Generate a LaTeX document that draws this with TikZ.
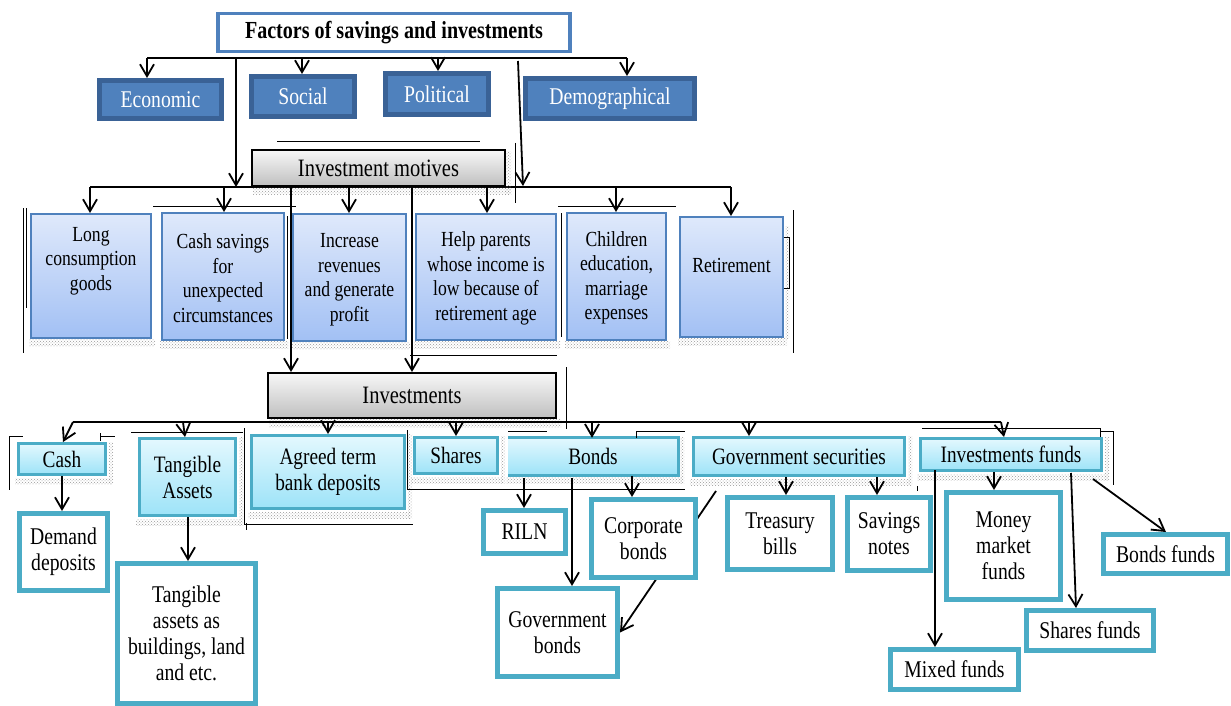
\documentclass[tikz,border=0pt]{standalone}
\usepackage{fontspec}
\setmainfont{Liberation Serif}[FakeStretch=0.82]
\usetikzlibrary{arrows.meta,patterns,backgrounds}
\definecolor{topblue}{HTML}{4F81BD}
\definecolor{darkblue}{HTML}{3A6296}
\definecolor{mottop}{HTML}{DFE9FB}
\definecolor{motbot}{HTML}{A2C0F4}
\definecolor{cattop}{HTML}{E3F8FE}
\definecolor{catbot}{HTML}{9DE3F8}
\definecolor{leafc}{HTML}{4BACC6}
\tikzset{
  topbox/.style={draw=topblue, line width=3.5pt, fill=white, inner sep=0pt,
    font=\bfseries\fontsize{24.5}{28}\selectfont},
  factbox/.style={draw=darkblue, line width=5pt, fill=topblue, text=white, inner sep=0pt,
    font=\fontsize{24}{28}\selectfont},
  graybox/.style={draw=black, line width=2pt, top color=gray!6, bottom color=gray!50, inner sep=0pt,
    font=\fontsize{25}{28}\selectfont},
  motbox/.style={draw=topblue, line width=2pt, top color=mottop, bottom color=motbot, inner sep=0pt},
  mottxt/.style={align=center, inner sep=0pt, font=\fontsize{21.5}{24.5}\selectfont},
  catbox/.style={draw=leafc, line width=3pt, top color=cattop, bottom color=catbot, inner sep=0pt,
    align=center, font=\fontsize{23.5}{26}\selectfont},
  catfill/.style={top color=cattop, bottom color=catbot, inner sep=0pt,
    align=center, font=\fontsize{23.5}{26}\selectfont},
  catline/.style={draw=leafc, line width=3pt},
  leafbox/.style={draw=leafc, line width=5pt, fill=white, inner sep=0pt,
    align=center, font=\fontsize{24}{26}\selectfont},
  arr/.style={line width=1.8pt, -{Straight Barb[length=12pt,width=14pt]}},
  busline/.style={line width=2.6pt},
  stray/.style={line width=0.8pt},
  shadowdots/.style={pattern=crosshatch dots, pattern color=gray!80},
}
\begin{document}
\begin{tikzpicture}[x=1pt,y=-1pt]
\useasboundingbox (0,0) rectangle (1231,706);

% ---------- level 0 and factors ----------
\node[topbox, minimum width=352, minimum height=38] (top) at (394,32.5) {Factors of savings and investments};
\node[factbox, minimum width=122, minimum height=38] (econ) at (160.5,99.5) {Economic};
\node[factbox, minimum width=103, minimum height=40] (social) at (303,96.5) {Social};
\node[factbox, minimum width=103, minimum height=41] (polit) at (437,94) {Political};
\node[factbox, minimum width=169, minimum height=40] (demo) at (610,98.5) {Demographical};

% ---------- motives ----------
\fill[shadowdots] (253,187) rectangle (511,194);
\fill[shadowdots] (505,151) rectangle (511,194);
\node[graybox, minimum width=253, minimum height=36] (motives) at (378.5,168) {Investment motives};

\node[motbox, minimum width=120, minimum height=124] (long) at (91,276) {};
\node[motbox, minimum width=122, minimum height=127] (cashsav) at (223,276.5) {};
\node[motbox, minimum width=113, minimum height=127] (incr) at (349.5,277.5) {};
\node[motbox, minimum width=140, minimum height=126] (help) at (486,277) {};
\node[motbox, minimum width=99, minimum height=127] (child) at (616.5,276.5) {};
\node[motbox, minimum width=103, minimum height=120] (retire) at (731.5,277) {};
\foreach \n in {long,cashsav,incr,help,child,retire}{
  \fill[shadowdots] ([xshift=-1pt]\n.south west) rectangle ([yshift=-7pt,xshift=3pt]\n.south east);
}
\fill[shadowdots] (785,226) rectangle (789,338);

\node[mottxt] (tlong) at (91,261) {Long\\consumption\\goods};
\node[mottxt] (tcash) at (223,278) {Cash savings\\for\\unexpected\\circumstances};
\node[mottxt] (tincr) at (349.5,279.5) {Increase\\revenues\\and generate\\profit};
\node[mottxt] (thelp) at (486,278.5) {Help parents\\whose income is\\low because of\\retirement age};
\node[mottxt] (tchild) at (616.5,278) {Children\\education,\\marriage\\expenses};
\node[mottxt] (tret) at (731.5,265) {Retirement};

% ---------- investments ----------
\fill[shadowdots] (269,419) rectangle (561,427);
\node[graybox, minimum width=288, minimum height=45] (invest) at (412,395.5) {Investments};

\node[catbox, minimum width=87, minimum height=31] (cash) at (62,459) {Cash};
\node[catbox, minimum width=96, minimum height=77] (tang) at (187.5,477) {Tangible\\Assets};
\node[catbox, minimum width=153, minimum height=73] (agreed) at (328,472) {Agreed term\\bank deposits};
\node[catbox, minimum width=83, minimum height=36] (shares) at (456,455.5) {Shares};
\node[catfill, minimum width=170, minimum height=37] (bonds) at (593,456.5) {Bonds};
\draw[catline] (bonds.north west) -- (bonds.north east) -- (bonds.south east) -- (bonds.south west);
\node[catbox, minimum width=211, minimum height=38] (govsec) at (799,456.5) {Government securities};
\node[catbox, minimum width=181, minimum height=32] (infunds) at (1011,454.5) {Investments funds};
\foreach \n in {cash,tang,agreed,shares,bonds,govsec,infunds}{
  \fill[shadowdots] ([xshift=-2pt,yshift=-2pt]\n.south west) rectangle ([yshift=-8pt,xshift=4pt]\n.south east);
  \fill[shadowdots] ([xshift=2pt]\n.north east) rectangle ([xshift=6pt,yshift=-8pt]\n.south east);
}

% ---------- leaves ----------
\node[leafbox, minimum width=88, minimum height=77] (demand) at (63.5,552) {Demand\\deposits};
\node[leafbox, minimum width=138, minimum height=140] (tangas) at (186.5,633.5) {Tangible\\assets as\\buildings, land\\and etc.};
\node[leafbox, minimum width=82, minimum height=43] (riln) at (524.5,532) {RILN};
\node[leafbox, minimum width=104, minimum height=78] (corp) at (643.5,538.5) {Corporate\\bonds};
\node[leafbox, minimum width=120, minimum height=88] (govb) at (557.5,632.5) {Government\\bonds};
\node[leafbox, minimum width=105, minimum height=72] (treas) at (780,533.5) {Treasury\\bills};
\node[leafbox, minimum width=83, minimum height=73] (savn) at (889,534) {Savings\\notes};
\node[leafbox, minimum width=114, minimum height=107] (money) at (1003.5,546) {Money\\market\\funds};
\node[leafbox, minimum width=124, minimum height=39] (bondsf) at (1165.5,554) {Bonds funds};
\node[leafbox, minimum width=127, minimum height=40] (sharesf) at (1090,630.5) {Shares funds};
\node[leafbox, minimum width=128, minimum height=40] (mixed) at (954.5,669.5) {Mixed funds};

% ---------- stray frame lines ----------
\draw[stray] (277,141) -- (480,141);
\draw[stray] (515,143) -- (515,203);
\draw[stray] (23,208) -- (23,353);
\draw[stray] (26,208) -- (26,308);
\draw[stray] (153,206) -- (296,206);
\draw[stray] (287,216) -- (287,339);
\draw[stray] (558,206) -- (676,206);
\draw[stray] (561,213) -- (561,337);
\draw[stray] (410,355) -- (557,355);
\draw[stray] (793,210) -- (793,353);
\draw[stray] (784,237) -- (789,237) -- (789,288) -- (784,288);
\draw[stray] (566,367) -- (566,429);
\draw[stray] (9,436) -- (23,436);
\draw[stray] (9,436) -- (9,490);
\draw[stray] (100,436) -- (115,436);
\draw[stray] (100,433) -- (100,441);
\draw[stray] (131,432) -- (243,432);
\draw[stray] (244,428) -- (244,524) -- (413,524);
\draw[stray] (246,523) -- (246,530);
\draw[stray] (407,430) -- (407,489) -- (685,489);
\draw[stray] (508,431) -- (547,431);
\draw[stray] (636,438) -- (636,431) -- (685,431);
\draw[stray] (922,428) -- (1100,428) -- (1100,437);
\draw[stray] (1100,431) -- (1113,431) -- (1113,485);
\draw[stray] (917,486) -- (917,491);

% ---------- connectors ----------
\coordinate (fa) at (147,58);
\coordinate (fb) at (302,58);
\coordinate (fc) at (438,58);
\coordinate (fd) at (627,58);
\coordinate (fl) at (236,58);
\coordinate (fr) at (518,61);
\coordinate (frb) at (523,186);
\draw[busline] (fa) -- (fd);
\draw[arr] (fa) -- (fa |- econ.north);
\draw[arr] (fb) -- (fb |- social.north);
\draw[arr] (fc) -- (fc |- polit.north);
\draw[arr] (fd) -- (fd |- demo.north);

\coordinate (ma) at (90,187);
\coordinate (mb) at (224,187);
\coordinate (mc) at (349,187);
\coordinate (md) at (487,187);
\coordinate (me) at (616,187);
\coordinate (mf) at (731,187);
\coordinate (ml) at (291,187);
\coordinate (mr) at (412,187);
\draw[arr] (fl) -- (fl |- ma);
\draw[arr] (fr) -- (frb);
\begin{pgfonlayer}{background}
\draw[busline] (ma) -- (mf);
\end{pgfonlayer}
\draw[arr] (ma) -- (ma |- long.north);
\draw[arr] (mb) -- (mb |- cashsav.north);
\draw[arr] (mc) -- (mc |- incr.north);
\draw[arr] (md) -- (md |- help.north);
\draw[arr] (me) -- (me |- child.north);
\draw[arr] (mf) -- (mf |- retire.north);
\draw[arr] (ml) -- (ml |- invest.north);
\draw[arr] (mr) -- (mr |- invest.north);

\coordinate (ia) at (73,422);
\coordinate (iac) at (63,442);
\coordinate (ib) at (183,422);
\coordinate (ibt) at (185,437);
\coordinate (ic) at (328,422);
\coordinate (id) at (456,422);
\coordinate (ie) at (592,422);
\coordinate (if) at (749,422);
\coordinate (ig) at (1001,422);
\coordinate (igt) at (1004,437);
\draw[busline] (ia) -- (ig);
\draw[arr] (ia) -- (iac);
\draw[arr] (ib) -- (ibt);
\draw[arr] (ic) -- (ic |- agreed.north);
\draw[arr] (id) -- (id |- shares.north);
\draw[arr] (ie) -- (ie |- bonds.north);
\draw[arr] (if) -- (if |- govsec.north);
\draw[arr] (ig) -- (igt);

\coordinate (ca) at (62,476);
\coordinate (ta) at (188,517);
\coordinate (ba) at (524,478);
\coordinate (bb) at (572,478);
\coordinate (bc) at (632,476);
\coordinate (ga) at (716,491);
\coordinate (gb) at (786,477);
\coordinate (gc) at (877,477);
\coordinate (na) at (994,472);
\coordinate (nb) at (935,470);
\coordinate (nc) at (1071,473);
\coordinate (nct) at (1076,608);
\coordinate (nd) at (1093,479);
\coordinate (ndt) at (1166,532);
\draw[arr] (ca) -- (ca |- demand.north);
\draw[arr] (ta) -- (ta |- tangas.north);
\draw[arr] (ba) -- (ba |- riln.north);
\draw[arr] (bb) -- (bb |- govb.north);
\draw[arr] (bc) -- (bc |- corp.north);
\begin{pgfonlayer}{background}
\draw[arr] (ga) -- (govb.east);
\end{pgfonlayer}
\draw[arr] (gb) -- (gb |- treas.north);
\draw[arr] (gc) -- (gc |- savn.north);
\draw[arr] (na) -- (na |- money.north);
\draw[arr] (nb) -- (nb |- mixed.north);
\draw[arr] (nc) -- (nct);
\draw[arr] (nd) -- (ndt);
\end{tikzpicture}
\end{document}
